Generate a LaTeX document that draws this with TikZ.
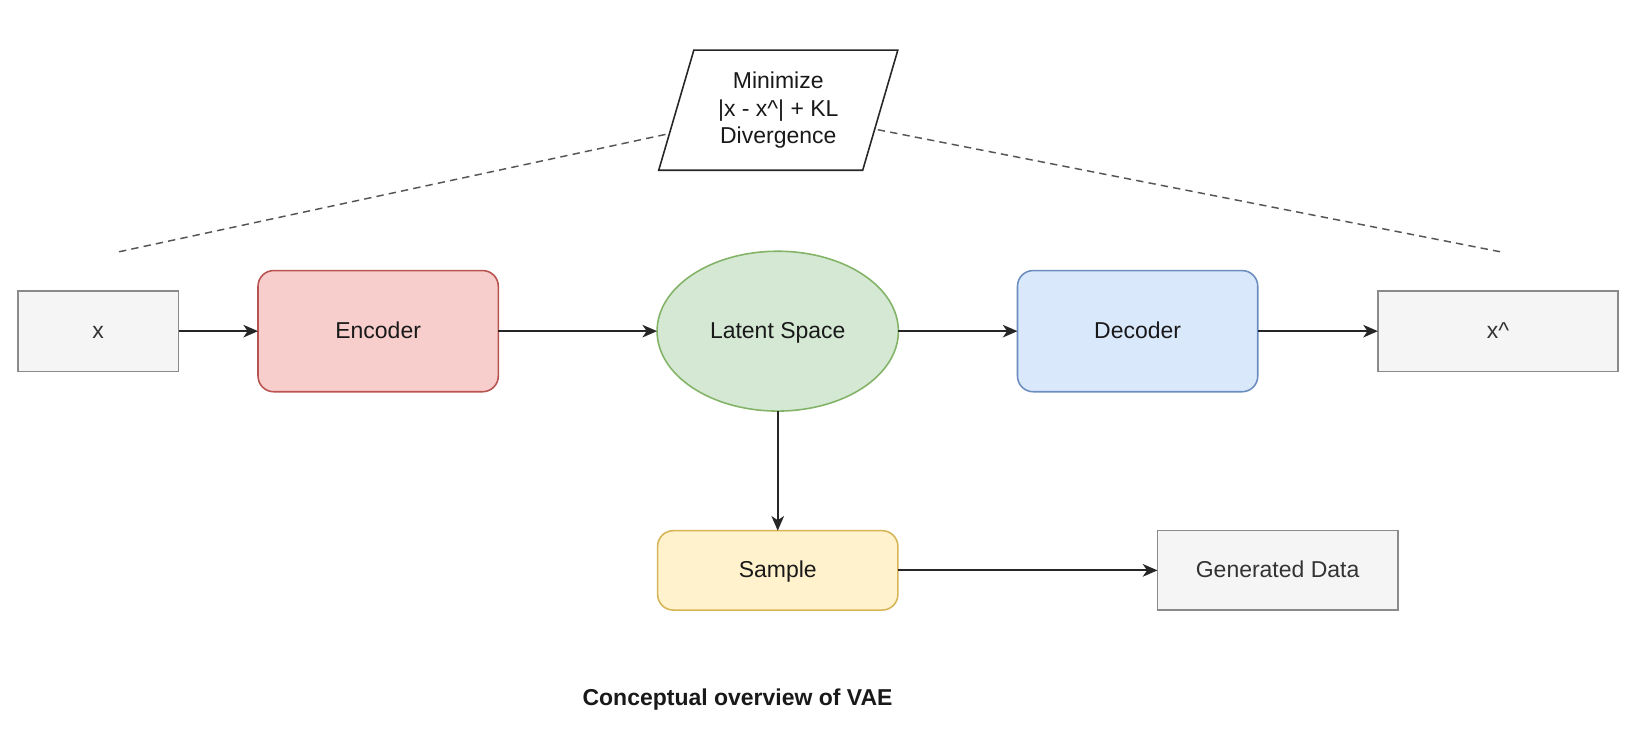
\documentclass[tikz,border=0pt]{standalone}
\usepackage{fontspec}
\setmainfont{Liberation Sans}
\usetikzlibrary{shapes.geometric,arrows.meta}
\definecolor{grayfill}{HTML}{F5F5F5}
\definecolor{graydraw}{HTML}{8A8A8A}
\definecolor{graytext}{HTML}{333333}
\definecolor{redfill}{HTML}{F8CECC}
\definecolor{reddraw}{HTML}{B85450}
\definecolor{greenfill}{HTML}{D5E8D4}
\definecolor{greendraw}{HTML}{82B366}
\definecolor{bluefill}{HTML}{DAE8FC}
\definecolor{bluedraw}{HTML}{6C8EBF}
\definecolor{yellowfill}{HTML}{FFF2CC}
\definecolor{yellowdraw}{HTML}{D6B656}
\definecolor{dashgray}{HTML}{555555}
\tikzset{
  base/.style={draw, line width=0.75pt, inner sep=0pt, outer sep=0pt, align=center,
    font=\fontsize{11}{13}\selectfont, text=black!90},
  oneline/.style={text height=0.72em, text depth=0pt},
  graybox/.style={base, oneline, rectangle, fill=grayfill, draw=graydraw, text=graytext},
  roundbox/.style={base, oneline, rectangle, rounded corners=7.5pt, minimum width=115pt, minimum height=58pt},
  redbox/.style={roundbox, fill=redfill, draw=reddraw},
  bluebox/.style={roundbox, fill=bluefill, draw=bluedraw},
  yellowbox/.style={roundbox, fill=yellowfill, draw=yellowdraw, minimum height=38pt},
  latent/.style={base, oneline, ellipse, fill=greenfill, draw=greendraw, minimum width=115.5pt, minimum height=76.5pt},
  para/.style={base, trapezium, trapezium left angle=71.7, trapezium right angle=108.3,
    trapezium stretches=true, minimum width=115pt, minimum height=57.5pt, fill=white, draw=black!85},
  arr/.style={-{Stealth[length=7pt, width=6pt, inset=2pt]}, line width=0.85pt, black!85},
  dashline/.style={dash pattern=on 3.5pt off 2.5pt, line width=0.7pt, dashgray},
}
\begin{document}
\begin{tikzpicture}[x=0.5pt, y=-0.5pt]
\useasboundingbox (0,0) rectangle (1568,716);
\fill[white] (0,0) rectangle (1568,716);
\node[graybox, minimum width=77pt, minimum height=38.5pt] (x) at (94,317) {x};
\node[redbox] (enc) at (362,317) {Encoder};
\node[latent] (lat) at (744.5,317) {Latent Space};
\node[bluebox] (dec) at (1089,317) {Decoder};
\node[graybox, minimum width=115pt, minimum height=38.5pt] (xh) at (1434,317) {x\^{}};
\node[yellowbox] (smp) at (744.5,546) {Sample};
\node[graybox, minimum width=115pt, minimum height=38pt] (gen) at (1223,546) {Generated Data};
\node[para] (kl) at (745,105.5) {Minimize\\|x - x\^{}| + KL\\Divergence};
\node[font=\bfseries\fontsize{11}{13}\selectfont, text=black!90] (cap) at (706,670) {Conceptual overview of VAE};
\coordinate (dl) at (114,241);
\coordinate (dr) at (1436,241);
\draw[arr] (x.east) -- (enc.west);
\draw[arr] (enc.east) -- (lat.west);
\draw[arr] (lat.east) -- (dec.west);
\draw[arr] (dec.east) -- (xh.west);
\draw[arr] (lat.south) -- (smp.north);
\draw[arr] (smp.east) -- (gen.west);
\draw[dashline] (dl) -- (kl);
\draw[dashline] (dr) -- (kl);
\end{tikzpicture}
\end{document}
